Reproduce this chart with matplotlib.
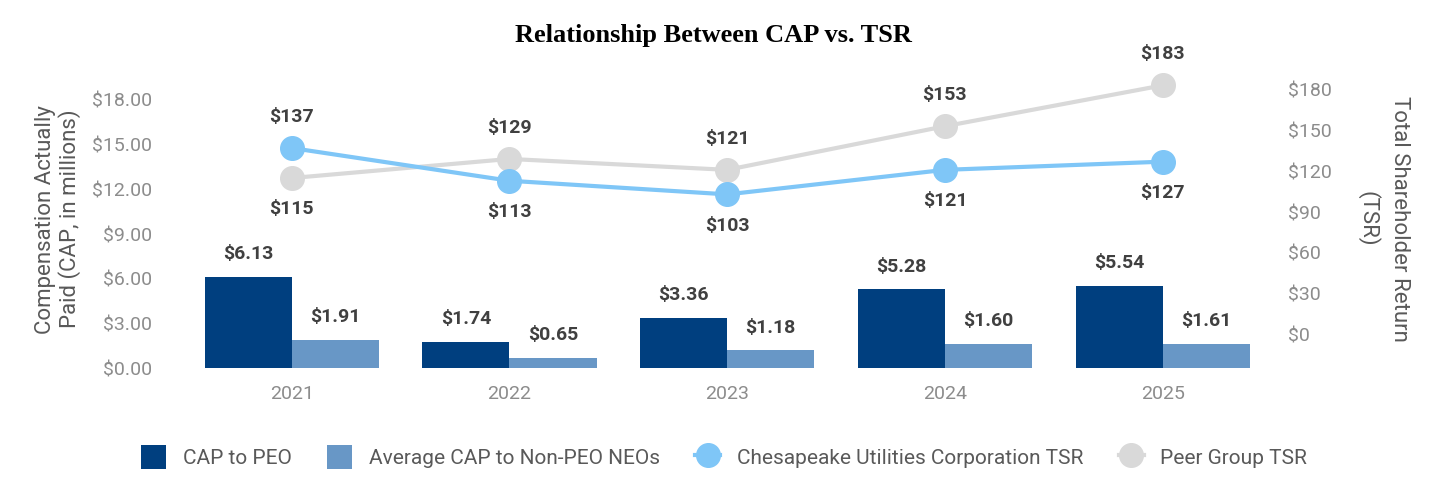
import matplotlib.pyplot as plt
import numpy as np

years = ['2021', '2022', '2023', '2024', '2025']
cap_peo = [6.13, 1.74, 3.36, 5.28, 5.54]
cap_neo = [1.91, 0.65, 1.18, 1.60, 1.61]
tsr_cpk = [137, 113, 103, 121, 127]
tsr_peer = [115, 129, 121, 153, 183]
# label side for each point: +1 above, -1 below
cpk_side = [1, -1, -1, -1, -1]
peer_side = [-1, 1, 1, 1, 1]

c_peo = '#003F7F'
c_neo = '#6897C6'
c_cpk = '#7FC6F7'
c_peer = '#D9D9D9'
c_tick = '#8C8C8C'
c_lab = '#595959'
c_val = '#404040'

plt.rcParams['font.family'] = ['Roboto', 'DejaVu Sans']

fig = plt.figure(figsize=(14.4, 4.98), dpi=100)
ax1 = fig.add_axes([0.127, 0.261, 0.756, 0.598])
x = np.arange(len(years))
w = 0.4

ax1.bar(x - w / 2, cap_peo, width=w, color=c_peo, label='CAP to PEO', zorder=2)
ax1.bar(x + w / 2, cap_neo, width=w, color=c_neo, label='Average CAP to Non-PEO NEOs', zorder=2)
for xi, v in zip(x, cap_peo):
    ax1.annotate(f'${v:.2f}', (xi - w / 2, v), xytext=(0, 10), textcoords='offset points',
                 ha='center', va='bottom', fontsize=14, fontweight='bold', color=c_val)
for xi, v in zip(x, cap_neo):
    ax1.annotate(f'${v:.2f}', (xi + w / 2, v), xytext=(0, 10), textcoords='offset points',
                 ha='center', va='bottom', fontsize=14, fontweight='bold', color=c_val)

ax1.set_xlim(-0.5, len(years) - 0.5)
ax1.set_ylim(0, 20)
ax1.set_yticks(np.arange(0, 19, 3))
ax1.set_yticklabels([f'${v:.2f}' for v in np.arange(0, 19, 3)])
ax1.set_xticks(x)
ax1.set_xticklabels(years)
ax1.tick_params(axis='both', length=0, labelsize=14, labelcolor=c_tick)
ax1.tick_params(axis='x', pad=12)
ax1.tick_params(axis='y', pad=22)
ax1.set_ylabel('Compensation Actually\nPaid (CAP, in millions)', fontsize=16, color=c_lab,
               labelpad=8, linespacing=1.1)
for s in ax1.spines.values():
    s.set_visible(False)

ax2 = ax1.twinx()
ax2.plot(x, tsr_peer, color=c_peer, linewidth=3, marker='o', markersize=17,
         label='Peer Group TSR', zorder=3)
ax2.plot(x, tsr_cpk, color=c_cpk, linewidth=3, marker='o', markersize=17,
         label='Chesapeake Utilities Corporation TSR', zorder=4)
for xi, v, sd in zip(x, tsr_cpk, cpk_side):
    ax2.annotate(f'${v}', (xi, v), xytext=(0, 16 * sd), textcoords='offset points',
                 ha='center', va='bottom' if sd > 0 else 'top', fontsize=14,
                 fontweight='bold', color=c_val)
for xi, v, sd in zip(x, tsr_peer, peer_side):
    ax2.annotate(f'${v}', (xi, v), xytext=(0, 16 * sd), textcoords='offset points',
                 ha='center', va='bottom' if sd > 0 else 'top', fontsize=14,
                 fontweight='bold', color=c_val)
ax2.set_ylim(-24.4, 194.1)
ax2.set_yticks(np.arange(0, 181, 30))
ax2.set_yticklabels([f'${v}' for v in np.arange(0, 181, 30)])
ax2.tick_params(axis='y', length=0, labelsize=14, labelcolor=c_tick, pad=12)
ax2.set_ylabel('Total Shareholder Return\n(TSR)', fontsize=16, color=c_lab,
               rotation=270, labelpad=56, linespacing=1.5)
for s in ax2.spines.values():
    s.set_visible(False)

ax1.set_title('Relationship Between CAP vs. TSR', fontsize=19, fontweight='bold',
              family='Liberation Serif', pad=20, x=0.487)

h1, l1 = ax1.get_legend_handles_labels()
h2, l2 = ax2.get_legend_handles_labels()
handles = h1 + [h2[1], h2[0]]
labels = l1 + [l2[1], l2[0]]
fig.legend(handles, labels, loc='center', bbox_to_anchor=(0.503, 0.082), ncol=4,
           frameon=False, fontsize=15, labelcolor=c_lab, handlelength=1.2,
           handleheight=1.4, columnspacing=1.7, handletextpad=0.8)

fig.savefig('out.png', dpi=100)
